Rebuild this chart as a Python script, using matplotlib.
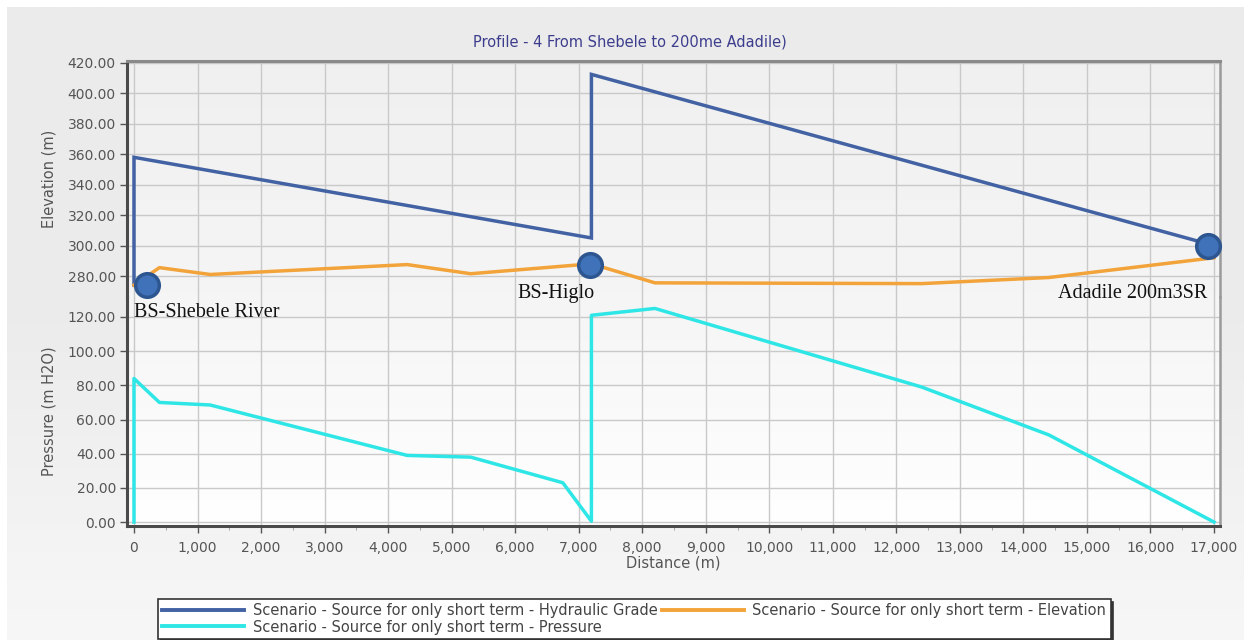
import numpy as np
import matplotlib
matplotlib.use("Agg")
import matplotlib.pyplot as plt
from matplotlib.ticker import FuncFormatter, MultipleLocator
from matplotlib.lines import Line2D

# ---- data ----
title = "Profile - 4 From Shebele to 200me Adadile)"
hgl_x = [0, 0, 7200, 7200, 17000]
hgl_y = [274, 358, 305, 412.5, 300]

elev_x = [0, 400, 1200, 4300, 5300, 7200, 8200, 12400, 14400, 17000]
elev_y = [274, 285.5, 281, 287.5, 281.5, 288, 275.5, 275, 279, 292]

press_x = [0, 0, 400, 1200, 4300, 5300, 6750, 7200, 7200, 8200, 12400, 14400, 17000]
press_y = [0, 84, 70, 68.5, 39, 38, 23, 0.5, 121, 125, 79, 51, 0]

node_x = [200, 7180, 16900]
node_y = [274, 287, 300]
node_names = ["BS-Shebele River", "BS-Higlo", "Adadile 200m3SR"]

legend_labels = [
    "Scenario - Source for only short term - Hydraulic Grade",
    "Scenario - Source for only short term - Pressure",
    "Scenario - Source for only short term - Elevation",
]

x_ticks = list(range(0, 17001, 1000))
elev_ticks = list(range(280, 421, 20))
press_ticks = list(range(0, 121, 20))

# ---- style ----
C_HGL = "#4262a3"
C_ELEV = "#f2a33a"
C_PRES = "#2fe6e6"
C_TICK = "#555555"
W, H = 1244, 640

fig = plt.figure(figsize=(W / 100, H / 100), dpi=100, facecolor="white")

def fx(px):
    return px / W

def fy(py):
    return 1 - py / H

# background panel gradient
bg = fig.add_axes([fx(7), 0, 1 - fx(7), fy(7)], zorder=-10)
grad = np.linspace(0, 1, 256).reshape(-1, 1)
bg.imshow(grad, aspect="auto", cmap=matplotlib.colors.LinearSegmentedColormap.from_list(
    "g", ["#ebebeb", "#ececec", "#f7f7f7"]), extent=[0, 1, 0, 1])
bg.set_axis_off()

L, R = 127, 1220
T, MID, B = 61, 297, 526

# plot-area gradient
pa = fig.add_axes([fx(L), fy(B), fx(R - L), (B - T) / H], zorder=-5)
pa.imshow(grad, aspect="auto", cmap=matplotlib.colors.LinearSegmentedColormap.from_list(
    "p", ["#f0f0f0", "#f5f5f5", "#ffffff"]), extent=[0, 1, 0, 1])
pa.set_axis_off()

ax2 = fig.add_axes([fx(L), fy(B), fx(R - L), (B - MID) / H])
ax1 = fig.add_axes([fx(L), fy(MID), fx(R - L), (MID - T) / H], sharex=ax2)

TICK_FS = 10
LAB_FS = 10.5

xlim = (-110, 17094)
for ax in (ax1, ax2):
    ax.set_facecolor("none")
    ax.set_xlim(*xlim)
    ax.grid(True, color="#c9c9c9", linewidth=1.0)
    ax.set_axisbelow(True)
    ax.spines["left"].set_color("#4a4a4a")
    ax.spines["left"].set_linewidth(2.2)
    ax.spines["right"].set_color("#9a9a9a")
    ax.spines["right"].set_linewidth(1.8)
    ax.tick_params(axis="y", colors=C_TICK, labelsize=TICK_FS, length=5, width=1,
                   labelcolor=C_TICK, pad=3)
    ax.set_xticks(x_ticks)

ax1.set_ylim(266.2, 421.3)
ax1.set_yticks(elev_ticks)
ax1.spines["bottom"].set_visible(False)
ax1.spines["top"].set_color("#8a8a8a")
ax1.spines["top"].set_linewidth(2.2)

ax2.set_ylim(-2.3, 131.7)
ax2.set_yticks(press_ticks)
ax2.spines["top"].set_visible(False)
ax2.spines["bottom"].set_color("#4a4a4a")
ax2.spines["bottom"].set_linewidth(2.2)
ax2.xaxis.set_minor_locator(MultipleLocator(500))
ax2.tick_params(axis="x", colors=C_TICK, labelsize=TICK_FS, length=5, width=1,
                labelcolor=C_TICK, pad=6)
ax2.tick_params(axis="x", which="minor", length=3, color="#999999")
ax1.tick_params(axis="x", which="both", bottom=False, top=False, labelbottom=False)

fmt2 = FuncFormatter(lambda v, p: f"{v:.2f}")
ax1.yaxis.set_major_formatter(fmt2)
ax2.yaxis.set_major_formatter(fmt2)
ax2.xaxis.set_major_formatter(FuncFormatter(lambda v, p: f"{int(v):,}"))

ax1.set_ylabel("Elevation (m)", fontsize=LAB_FS, color=C_TICK, labelpad=8)
ax2.set_ylabel("Pressure (m H2O)", fontsize=LAB_FS, color=C_TICK, labelpad=8)
ax2.set_xlabel("Distance (m)", fontsize=LAB_FS, color=C_TICK, labelpad=0)

# lines
ax1.plot(hgl_x, hgl_y, color=C_HGL, lw=2.5, solid_joinstyle="miter", zorder=3)
ax1.plot(elev_x, elev_y, color=C_ELEV, lw=2.5, zorder=3)
ax2.plot(press_x, press_y, color=C_PRES, lw=2.5, zorder=3, clip_on=False)

# node markers
ax1.plot(node_x, node_y, linestyle="none", marker="o", markersize=17,
         markerfacecolor="#3f72b8", markeredgecolor="#2d5690", markeredgewidth=2.5,
         zorder=5, clip_on=False)

offsets = [(-13, -32, "left"), (-34, -33, "center"), (0, -52, "right")]
for name, x, y, (dx, dy, ha) in zip(node_names, node_x, node_y, offsets):
    ax1.annotate(name, (x, y), xytext=(dx, dy), textcoords="offset pixels",
                 ha=ha, va="baseline", fontsize=14.5, family="Liberation Serif",
                 color="#111111", annotation_clip=False, zorder=6)

fig.text(fx(630), fy(42), title, ha="center", va="center", fontsize=10.5,
         color="#3d3d8e")

handles = [
    Line2D([], [], color=C_HGL, lw=2.8),
    Line2D([], [], color=C_PRES, lw=2.8),
    Line2D([], [], color=C_ELEV, lw=2.8),
]
leg = fig.legend(handles, legend_labels, ncol=2, loc="upper left",
                 bbox_to_anchor=(fx(158), fy(599)), fontsize=10.5, frameon=True,
                 fancybox=False, shadow={"color": "#333333", "alpha": 1.0},
                 edgecolor="#333333", framealpha=1.0, handlelength=5.6,
                 handletextpad=0.6, columnspacing=0.3, borderpad=0.3,
                 labelspacing=0.08, borderaxespad=0)
leg.get_frame().set_linewidth(1.2)
for t in leg.get_texts():
    t.set_color("#444444")

fig.savefig("out.png", dpi=100, facecolor=fig.get_facecolor())
